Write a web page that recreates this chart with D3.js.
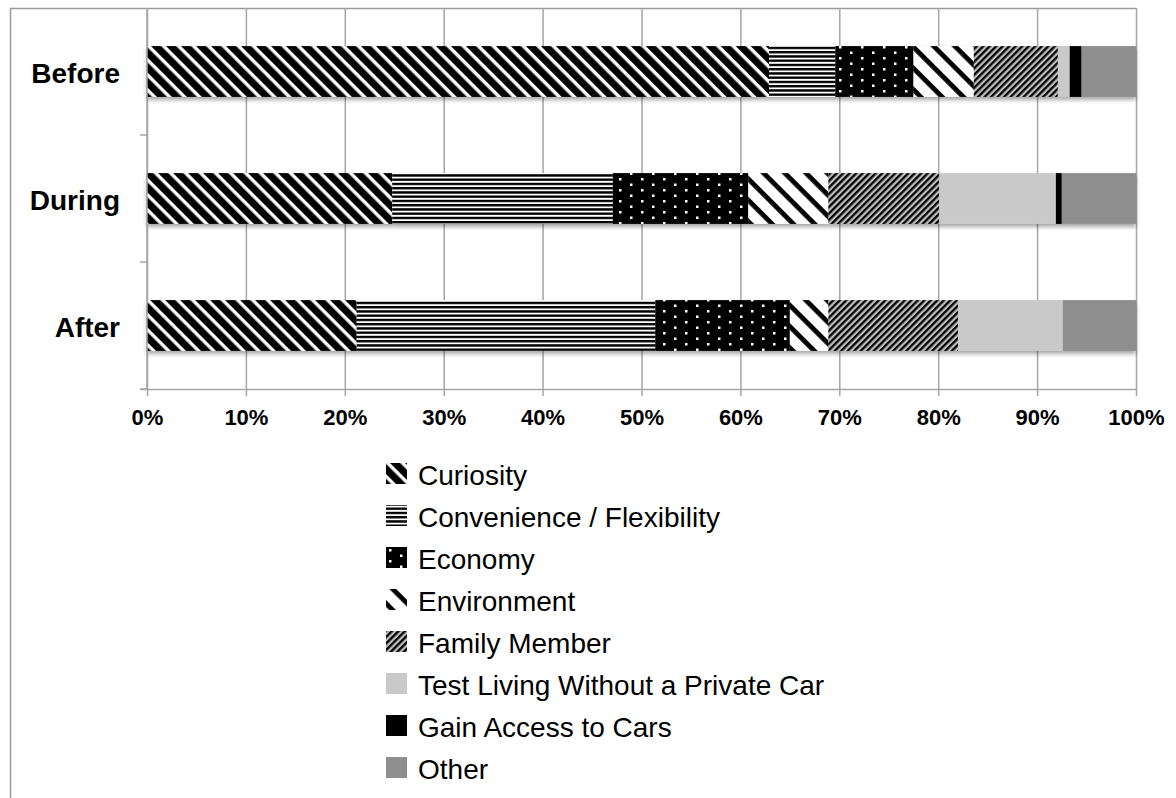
<!DOCTYPE html>
<html>
<head>
<meta charset="utf-8">
<script src="https://cdn.jsdelivr.net/npm/d3@7"></script>
<style>
  body { margin: 0; background: #fff; }
  svg { display: block; font-family: "Liberation Sans", Arial, sans-serif; }
</style>
</head>
<body>
<div id="chart"></div>
<script>
//Chart values (percent of each period)
var categories = ["Before", "During", "After"];
var reasons = ["Curiosity", "Convenience / Flexibility", "Economy", "Environment",
               "Family Member", "Test Living Without a Private Car", "Gain Access to Cars", "Other"];
var beforeVals = [62.9, 6.7, 7.9, 6.1, 8.5, 1.2, 1.2, 5.5];
var duringVals = [24.8, 22.3, 13.7, 8.1, 11.2, 11.8, 0.6, 7.5];
var afterVals  = [21.2, 30.2, 13.6, 3.9, 13.1, 10.6, 0.0, 7.4];
var xTicks = [0, 10, 20, 30, 40, 50, 60, 70, 80, 90, 100];

//Canvas
var W = 1176, H = 798;
var plot = {left: 147, right: 1136, top: 8, bottom: 389};

var svg = d3.select("#chart").append("svg")
    .attr("width", W)
    .attr("height", H);

var defs = svg.append("defs");

//Pattern fills (Excel-style black & white)
function stripePattern(id, size, angle, bg, fg, band) {
  var p = defs.append("pattern")
      .attr("id", id)
      .attr("patternUnits", "userSpaceOnUse")
      .attr("width", size).attr("height", size)
      .attr("patternTransform", "rotate(" + angle + ")");
  p.append("rect").attr("width", size).attr("height", size).attr("fill", bg);
  p.append("rect").attr("width", size).attr("height", band).attr("fill", fg);
}
stripePattern("p-curiosity", 10.6, 45, "#000", "#fff", 3.4);
stripePattern("p-convenience", 4.25, 0, "#fff", "#000", 2.4);
stripePattern("p-environment", 15, 45, "#fff", "#000", 4.8);
stripePattern("p-family", 4.6, -45, "#bdbdbd", "#000", 2.3);

var eco = defs.append("pattern")
    .attr("id", "p-economy")
    .attr("patternUnits", "userSpaceOnUse")
    .attr("width", 22).attr("height", 11);
eco.append("rect").attr("width", 22).attr("height", 11).attr("fill", "#000");
eco.append("rect").attr("x", 3).attr("y", 2).attr("width", 2.5).attr("height", 2.5).attr("fill", "#fff");
eco.append("rect").attr("x", 14).attr("y", 7.5).attr("width", 2.5).attr("height", 2.5).attr("fill", "#fff");

var fills = ["url(#p-curiosity)", "url(#p-convenience)", "url(#p-economy)", "url(#p-environment)",
             "url(#p-family)", "#c9c9c9", "#000", "#8e8e8e"];
var color = d3.scaleOrdinal().domain(reasons).range(fills);

//soft shadow under the bars
var shadow = defs.append("filter").attr("id", "shadow")
    .attr("x", "-2%").attr("y", "-20%").attr("width", "104%").attr("height", "150%");
shadow.append("feDropShadow")
    .attr("dx", 0).attr("dy", 3).attr("stdDeviation", 2)
    .attr("flood-color", "#000").attr("flood-opacity", 0.35);

//Scales
var xScale = d3.scaleLinear().domain([0, 100]).range([plot.left, plot.right]);
var yScale = d3.scaleBand().domain(categories)
    .range([plot.top, plot.bottom])
    .paddingInner(0.6).paddingOuter(0.3);

//Outer frame (left and top edges visible)
svg.append("path")
    .attr("d", "M10.5," + H + "V8.5H" + (plot.right + 0.5))
    .attr("fill", "none")
    .attr("stroke", "#9a9a9a")
    .attr("stroke-width", 1.5);

//Gridlines
svg.append("g")
    .attr("class", "grid")
    .attr("transform", "translate(0," + plot.bottom + ")")
    .call(d3.axisBottom(xScale).tickValues(xTicks).tickSize(-(plot.bottom - plot.top)).tickFormat(""))
    .call(function(g) { g.select(".domain").remove(); })
    .selectAll("line")
      .attr("stroke", "#a6a6a6")
      .attr("stroke-width", 1.5);

//Stack
var rows = categories.map(function(c, i) {
  var vals = [beforeVals, duringVals, afterVals][i];
  var r = {category: c};
  reasons.forEach(function(k, j) { r[k] = vals[j]; });
  return r;
});
var series = d3.stack().keys(reasons)(rows);

var bars = svg.append("g").attr("class", "bars");
categories.forEach(function(c, i) {
  var g = bars.append("g").attr("filter", "url(#shadow)");
  series.forEach(function(s) {
    var d = s[i];
    if (d[1] - d[0] <= 0) return;
    g.append("rect")
      .attr("x", xScale(d[0]))
      .attr("y", yScale(c))
      .attr("width", xScale(d[1]) - xScale(d[0]))
      .attr("height", yScale.bandwidth())
      .attr("fill", color(s.key));
  });
});

//X axis
var xAxis = svg.append("g")
    .attr("class", "axis x-axis")
    .attr("transform", "translate(0," + plot.bottom + ")")
    .call(d3.axisBottom(xScale).tickValues(xTicks).tickSize(7).tickPadding(13)
      .tickFormat(function(d) { return d + "%"; }));
xAxis.select(".domain")
    .attr("d", "M" + (plot.left - 7) + ",0.5H" + plot.right)
    .attr("stroke", "#a6a6a6").attr("stroke-width", 1.5);
xAxis.selectAll(".tick line").attr("stroke", "#a6a6a6").attr("stroke-width", 1.5);
xAxis.selectAll("text")
    .attr("fill", "#000")
    .style("font-size", "22px")
    .style("font-weight", "bold");

//Y axis: line, boundary ticks, labels
var yAxis = svg.append("g").attr("class", "axis y-axis");
yAxis.append("line")
    .attr("x1", plot.left).attr("x2", plot.left)
    .attr("y1", plot.top).attr("y2", plot.bottom)
    .attr("stroke", "#a6a6a6").attr("stroke-width", 1.5);
var bounds = categories.map(function(c) { return yScale(c) - yScale.step() * yScale.paddingInner() / 2; });
bounds.push(plot.bottom);
yAxis.selectAll("line.ytick")
    .data(bounds.slice(1))
    .enter().append("line")
      .attr("class", "ytick")
      .attr("x1", plot.left - 7).attr("x2", plot.left)
      .attr("y1", function(d) { return d; }).attr("y2", function(d) { return d; })
      .attr("stroke", "#a6a6a6").attr("stroke-width", 1.5);
yAxis.selectAll("text")
    .data(categories)
    .enter().append("text")
      .attr("x", 120)
      .attr("y", function(d) { return yScale(d) + yScale.bandwidth() / 2 + 2; })
      .attr("text-anchor", "end")
      .attr("dominant-baseline", "central")
      .style("font-size", "28px")
      .style("font-weight", "bold")
      .text(function(d) { return d; });

//Legend
var legend = svg.append("g").attr("class", "legend");
var item = legend.selectAll("g")
    .data(reasons)
    .enter().append("g")
      .attr("transform", function(d, i) { return "translate(386," + (474 + i * 42) + ")"; });
item.append("rect")
    .attr("x", 0).attr("y", -11)
    .attr("width", 21).attr("height", 21)
    .attr("fill", function(d) { return color(d); });
item.append("text")
    .attr("x", 32)
    .attr("y", 1)
    .attr("dominant-baseline", "central")
    .style("font-size", "28px")
    .text(function(d) { return d; });
</script>
</body>
</html>
